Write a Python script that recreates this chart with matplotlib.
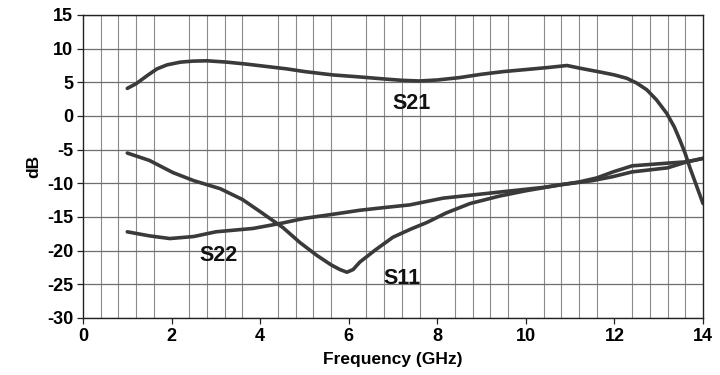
import numpy as np
import matplotlib.pyplot as plt
from matplotlib.ticker import MultipleLocator

# --- Data (frequency in GHz, level in dB) ---
s21_freq = [1.0, 1.2, 1.45, 1.67, 1.9, 2.2, 2.48, 2.8, 3.25, 3.7, 4.15, 4.6, 5.0, 5.64,
            6.25, 6.8, 7.2, 7.6, 8.0, 8.5, 9.0, 9.5, 10.0, 10.5, 10.93, 11.22,
            11.7, 12.0, 12.28, 12.5, 12.73, 12.95, 13.18, 13.35, 13.48, 13.6,
            13.7, 13.85, 14.0]
s21_db = [4.1, 4.8, 6.0, 7.0, 7.6, 8.0, 8.15, 8.2, 8.0, 7.7, 7.35, 7.0, 6.6, 6.1,
          5.8, 5.5, 5.3, 5.2, 5.35, 5.7, 6.2, 6.6, 6.9, 7.2, 7.5, 7.1,
          6.5, 6.1, 5.6, 4.9, 3.9, 2.4, 0.4, -1.6, -3.6, -5.6,
          -7.6, -10.3, -13.0]

s11_freq = [1.0, 1.5, 2.03, 2.5, 3.1, 3.6, 4.0, 4.52, 4.9, 5.28, 5.6, 5.8, 5.96,
            6.1, 6.25, 6.6, 7.0, 7.4, 7.77, 8.2, 8.74, 9.4, 10.0, 10.8, 11.5,
            11.97, 12.4, 13.2, 13.64, 14.0]
s11_db = [-5.5, -6.6, -8.4, -9.6, -10.8, -12.4, -14.2, -16.6, -18.8, -20.7, -22.1,
          -22.8, -23.2, -22.8, -21.7, -19.9, -18.0, -16.8, -15.8, -14.4, -13.0,
          -11.9, -11.1, -10.2, -9.6, -9.0, -8.3, -7.7, -6.8, -6.3]

s22_freq = [1.0, 1.5, 1.96, 2.5, 3.0, 3.84, 4.5, 5.0, 5.64, 6.25, 6.8, 7.38, 8.13,
            9.26, 10.4, 11.2, 11.6, 11.97, 12.4, 12.8, 13.2, 13.64, 14.0]
s22_db = [-17.2, -17.8, -18.2, -17.9, -17.2, -16.7, -15.9, -15.2, -14.6, -14.0,
          -13.6, -13.2, -12.2, -11.4, -10.6, -9.8, -9.2, -8.3, -7.4, -7.2,
          -7.0, -6.8, -6.3]

curve_labels = ["S21", "S22", "S11"]
label_x = [7.43, 3.05, 7.2]
label_y = [1.9, -20.7, -24.1]

plt.rcParams["font.family"] = ["Liberation Sans", "DejaVu Sans"]
plt.rcParams["axes.unicode_minus"] = False

fig = plt.figure(figsize=(7.2, 3.75), dpi=100)
ax = fig.add_axes([83 / 720, 1 - 318 / 375, 620 / 720, 303 / 375])

line_color = "#3a3a3a"
for fx, fy in [(s21_freq, s21_db), (s11_freq, s11_db), (s22_freq, s22_db)]:
    ax.plot(fx, fy, color=line_color, linewidth=2.6, solid_capstyle="round",
            solid_joinstyle="round")

for txt, tx, ty in zip(curve_labels, label_x, label_y):
    ax.text(tx, ty, txt, fontsize=15.5, fontweight="bold", ha="center", va="center",
            color="#111111")

ax.set_xlim(0, 14)
ax.set_ylim(-30, 15)
ax.xaxis.set_major_locator(MultipleLocator(2))
ax.xaxis.set_minor_locator(MultipleLocator(0.4))
ax.yaxis.set_major_locator(MultipleLocator(5))

ax.grid(which="major", axis="y", color="#6e6e6e", linewidth=0.9)
ax.grid(which="minor", axis="x", color="#8a8a8a", linewidth=0.8)
ax.set_axisbelow(True)

ax.tick_params(which="minor", length=0)
ax.tick_params(which="major", length=4, width=0.9, color="#222222")
ax.tick_params(axis="both", labelsize=13, pad=3)
for lab in ax.get_xticklabels() + ax.get_yticklabels():
    lab.set_fontweight("bold")

for sp in ax.spines.values():
    sp.set_color("#222222")
    sp.set_linewidth(1.0)

ax.set_xlabel("Frequency (GHz)", fontsize=12.5, fontweight="bold", labelpad=5)
ax.set_ylabel("dB", fontsize=12.5, fontweight="bold", labelpad=4)

plt.savefig("out.png", dpi=100)
